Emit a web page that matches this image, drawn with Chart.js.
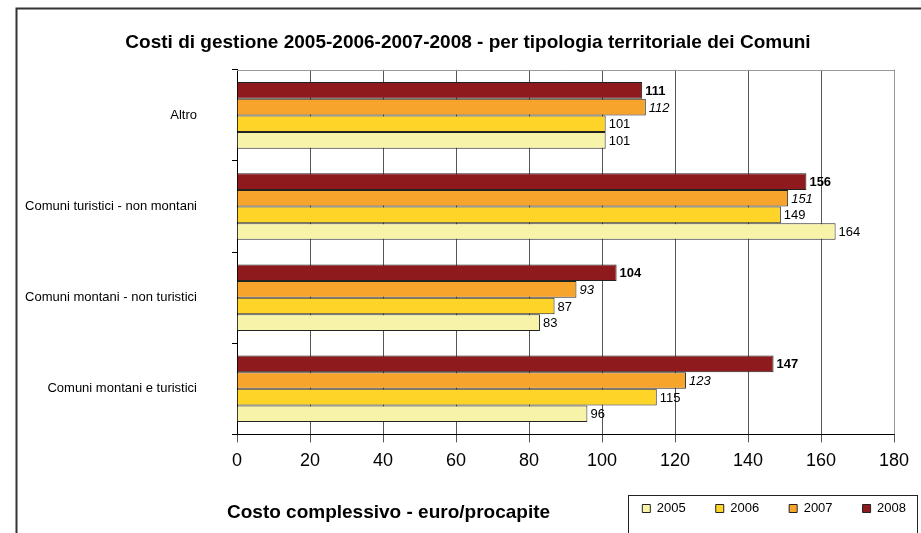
<!DOCTYPE html>
<html>
<head>
<meta charset="utf-8">
<script src="https://cdn.jsdelivr.net/npm/chart.js@4.4.1/dist/chart.umd.min.js"></script>
<style>
  html, body { margin: 0; padding: 0; background: #fff; }
  #wrap { width: 921px; height: 533px; }
</style>
</head>
<body>
<div id="wrap"><canvas id="myChart" width="921" height="533"></canvas></div>
<script>
const FONT = "'Liberation Sans', Arial, sans-serif";

const categories = [
    'Altro',
    'Comuni turistici - non montani',
    'Comuni montani - non turistici',
    'Comuni montani e turistici'
];
const years = ['2005', '2006', '2007', '2008'];
const costi2005 = [101, 164, 83, 96];
const costi2006 = [101, 149, 87, 115];
const costi2007 = [112, 151, 93, 123];
const costi2008 = [111, 156, 104, 147];
const xTicks = [0, 20, 40, 60, 80, 100, 120, 140, 160, 180];

const chartTitle = 'Costi di gestione 2005-2006-2007-2008 - per tipologia territoriale dei Comuni';
const axisTitle = 'Costo complessivo - euro/procapite';

// drawn top to bottom inside each group: 2008, 2007, 2006, 2005
const series = [
    { label: years[3], data: costi2008, color: '#8E1A1E', style: 'bold' },
    { label: years[2], data: costi2007, color: '#F6A42C', style: 'italic' },
    { label: years[1], data: costi2006, color: '#FFD428', style: 'normal' },
    { label: years[0], data: costi2005, color: '#F7F4AA', style: 'normal' }
];

const LEGEND_SHIFT = 8;

const extras = {
    id: 'extras',
    afterLayout(chart) {
        // legend sits on the same row as the axis title
        if (chart.legend) {
            chart.legend.top -= LEGEND_SHIFT;
            chart.legend.bottom -= LEGEND_SHIFT;
        }
    },
    beforeDraw(chart) {
        const ctx = chart.ctx;
        ctx.save();
        ctx.fillStyle = '#fff';
        ctx.fillRect(0, 0, chart.width, chart.height);
        ctx.restore();
    },
    afterDraw(chart) {
        const ctx = chart.ctx;
        const area = chart.chartArea;
        ctx.save();

        // plot area top / right edge
        ctx.strokeStyle = '#999';
        ctx.lineWidth = 1;
        ctx.beginPath();
        ctx.moveTo(area.left, Math.round(area.top) + 0.5);
        ctx.lineTo(Math.round(area.right) + 0.5, Math.round(area.top) + 0.5);
        ctx.lineTo(Math.round(area.right) + 0.5, area.bottom);
        ctx.stroke();

        // value labels at bar ends
        ctx.textBaseline = 'middle';
        ctx.textAlign = 'left';
        ctx.fillStyle = '#000';
        chart.data.datasets.forEach((ds, i) => {
            const meta = chart.getDatasetMeta(i);
            const st = ds.labelStyle;
            ctx.font = (st === 'bold' ? 'bold ' : st === 'italic' ? 'italic ' : '') + '13px ' + FONT;
            meta.data.forEach((bar, j) => {
                ctx.fillText(Math.round(ds.data[j]), bar.x + 3, bar.y + 1);
            });
        });

        // outer frame (top and left)
        ctx.strokeStyle = '#333';
        ctx.lineWidth = 2;
        ctx.beginPath();
        ctx.moveTo(16.5, chart.height);
        ctx.lineTo(16.5, 8.5);
        ctx.lineTo(chart.width, 8.5);
        ctx.stroke();

        // legend frame + axis title
        const lg = chart.legend;
        if (lg && lg.legendHitBoxes && lg.legendHitBoxes.length) {
            const hb = lg.legendHitBoxes;
            const x0 = Math.round(Math.min(...hb.map(h => h.left)) - 14);
            const yc = hb[0].top + hb[0].height / 2;
            const y0 = Math.round(yc - 14);
            ctx.strokeStyle = '#222';
            ctx.lineWidth = 1;
            ctx.strokeRect(x0 + 0.5, y0 + 0.5, 917 - x0, 100);

            ctx.fillStyle = '#000';
            ctx.font = 'bold 19px ' + FONT;
            ctx.textAlign = 'left';
            ctx.fillText(axisTitle, 227, yc + 4);
        }
        ctx.restore();
    }
};

new Chart(document.getElementById('myChart'), {
    type: 'bar',
    data: {
        labels: categories,
        datasets: series.map(s => ({
            label: s.label,
            data: s.data,
            backgroundColor: s.color,
            borderColor: '#222',
            borderWidth: 1,
            labelStyle: s.style,
            categoryPercentage: 0.73,
            barPercentage: 1
        }))
    },
    options: {
        indexAxis: 'y',
        responsive: false,
        animation: false,
        devicePixelRatio: 1,
        layout: { padding: { left: 0, right: -15, top: 0, bottom: 0 } },
        scales: {
            x: {
                min: 0,
                max: 180,
                afterBuildTicks: (axis) => { axis.ticks = xTicks.map(v => ({ value: v })); },
                afterFit: (axis) => { axis.paddingRight = 27; },
                grid: { color: '#555', tickLength: 8, tickColor: '#555' },
                border: { color: '#000' },
                ticks: { color: '#000', font: { family: FONT, size: 18 }, padding: 8 }
            },
            y: {
                afterFit: (axis) => { axis.width = 237; },
                grid: { drawOnChartArea: false, tickLength: 5, tickColor: '#000', offset: true },
                border: { color: '#000' },
                ticks: { color: '#000', font: { family: FONT, size: 13 }, padding: 35, crossAlign: 'near' }
            }
        },
        plugins: {
            title: {
                display: true,
                text: chartTitle,
                color: '#000',
                font: { family: FONT, size: 19, weight: 'bold' },
                padding: { top: 31, bottom: 16 }
            },
            legend: {
                position: 'bottom',
                align: 'end',
                reverse: true,
                labels: {
                    color: '#000',
                    boxWidth: 8,
                    boxHeight: 8,
                    padding: 30,
                    font: { family: FONT, size: 13 }
                }
            },
            tooltip: { enabled: false }
        }
    },
    plugins: [extras]
});
</script>
</body>
</html>
